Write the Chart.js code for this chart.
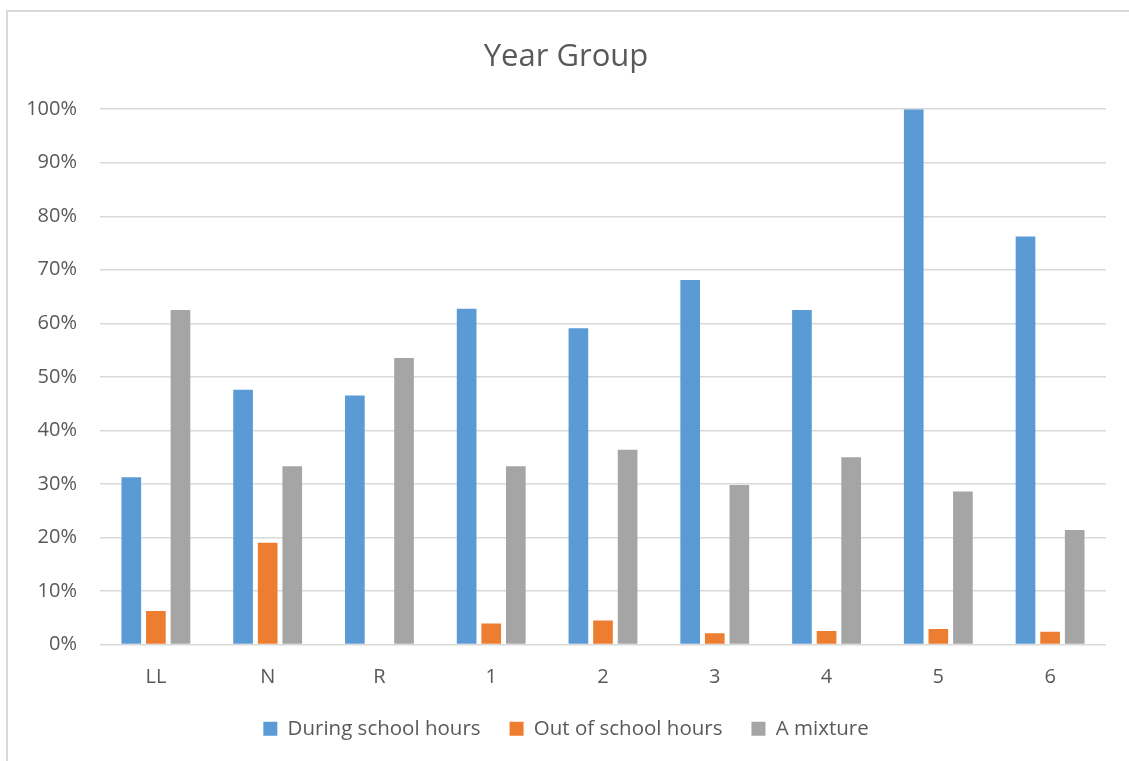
<!DOCTYPE html>
<html>
<head>
<meta charset="utf-8">
<script src="https://cdn.jsdelivr.net/npm/chart.js@4"></script>
<style>
  body { margin: 0; background: #fff; }
  #wrap { position: relative; width: 1129px; height: 761px; }
  #frame { position: absolute; left: 6px; top: 10px; right: 0; bottom: 0;
           border-left: 2px solid #d9d9d9; border-top: 2px solid #d9d9d9; }
  #chart { position: absolute; left: 0; top: 0; }
</style>
</head>
<body>
<div id="wrap">
  <div id="frame"></div>
  <canvas id="chart" width="1129" height="761"></canvas>
</div>
<script>
const yearGroups = ['LL', 'N', 'R', '1', '2', '3', '4', '5', '6'];
const duringSchool = [31.25, 47.6, 46.5, 62.7, 59.1, 68.1, 62.5, 100, 76.2];
const outOfSchool = [6.25, 19.0, 0, 3.9, 4.5, 2.1, 2.5, 2.9, 2.4];
const mixture = [62.5, 33.3, 53.5, 33.3, 36.4, 29.8, 35.0, 28.6, 21.4];

const textColor = '#595959';
const gridColor = '#d9d9d9';

Chart.defaults.font.family = '"Open Sans", sans-serif';
Chart.defaults.color = textColor;

new Chart(document.getElementById('chart'), {
  type: 'bar',
  data: {
    labels: yearGroups,
    datasets: [
      { label: 'During school hours', data: duringSchool, backgroundColor: '#5b9bd5' },
      { label: 'Out of school hours', data: outOfSchool, backgroundColor: '#ed7d31' },
      { label: 'A mixture', data: mixture, backgroundColor: '#a5a5a5' }
    ]
  },
  options: {
    responsive: false,
    animation: false,
    categoryPercentage: 0.66,
    barPercentage: 0.8,
    layout: { padding: { left: 26, right: 23, top: 0, bottom: 12 } },
    plugins: {
      title: {
        display: true,
        text: 'Year Group',
        font: { size: 31, weight: 'normal' },
        color: textColor,
        padding: { top: 39, bottom: 33 }
      },
      legend: {
        position: 'bottom',
        labels: {
          boxWidth: 14,
          boxHeight: 14,
          padding: 29,
          font: { size: 20.5 },
          color: textColor
        }
      },
      tooltip: { enabled: false }
    },
    scales: {
      x: {
        grid: { display: false, drawTicks: false },
        border: { display: false },
        afterFit: (scale) => { scale.height = 45; },
        ticks: { padding: 21, font: { size: 20 }, color: textColor }
      },
      y: {
        min: 0,
        max: 100,
        afterFit: (scale) => { scale.width = 74; },
        ticks: {
          stepSize: 10,
          padding: 23,
          font: { size: 20 },
          color: textColor,
          callback: (v) => v + '%'
        },
        grid: { color: gridColor, lineWidth: 1.5, drawTicks: false },
        border: { display: false }
      }
    }
  }
});
</script>
</body>
</html>
